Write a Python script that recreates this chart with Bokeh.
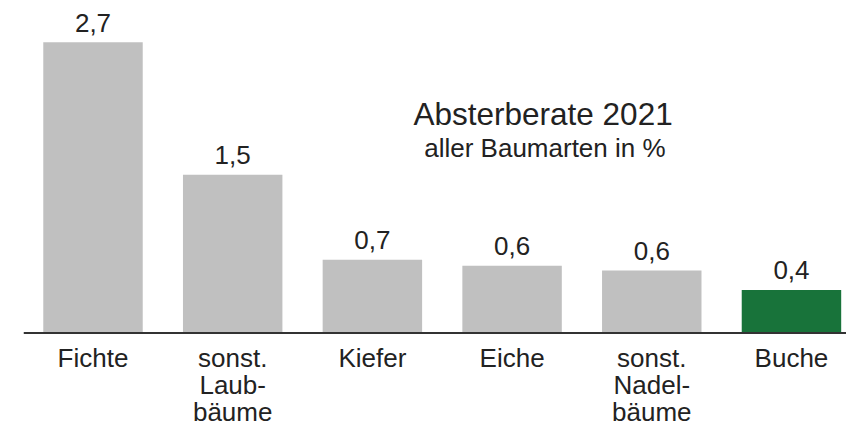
from bokeh.plotting import figure
from bokeh.models import Range1d, Span, ColumnDataSource
from bokeh.core.properties import value
from bokeh.embed import file_html
from bokeh.resources import INLINE

# data
categories = ["Fichte", "sonst.\nLaub-\nbäume", "Kiefer", "Eiche", "sonst.\nNadel-\nbäume", "Buche"]
rates = [2.70, 1.47, 0.68, 0.625, 0.58, 0.40]
rate_labels = ["2,7", "1,5", "0,7", "0,6", "0,6", "0,4"]
highlight = ["Buche"]
title_text = "Absterberate 2021"
subtitle_text = "aller Baumarten in %"

FONT = value("Liberation Sans")
TXT = "#222222"
GRAY = "#c0c0c0"
GREEN = "#18733a"

p = figure(width=846, height=427, output_backend="svg", toolbar_location=None,
           x_range=Range1d(-0.4975, 5.394), y_range=Range1d(-0.877, 3.087),
           x_axis_location=None, y_axis_location=None)
p.min_border_left = 23
p.min_border_right = 0
p.min_border_top = 0
p.min_border_bottom = 0
p.outline_line_color = None
p.xgrid.visible = False
p.ygrid.visible = False
p.background_fill_color = "white"
p.border_fill_color = "white"

xs = list(range(len(categories)))
colors = [GREEN if c in highlight else GRAY for c in categories]
src = ColumnDataSource(dict(x=xs, top=rates, color=colors, lab=rate_labels))
p.vbar(x="x", top="top", bottom=0, width=0.712, fill_color="color", line_color=None, source=src)

p.text(x="x", y="top", text="lab", source=src, text_font=FONT, text_font_size="26px",
       text_color=TXT, text_align="center", text_baseline="alphabetic", y_offset=-19.5)

# category labels, one glyph per line
lx, ly, lt, loff = [], [], [], []
for i, c in enumerate(categories):
    for k, line in enumerate(c.split("\n")):
        lx.append(i)
        ly.append(0)
        lt.append(line)
        loff.append(24.5 + 27 * k)
csrc = ColumnDataSource(dict(x=lx, y=ly, t=lt, off=loff))
p.text(x="x", y="y", text="t", y_offset="off", source=csrc, text_font=FONT,
       text_font_size="26px", text_color=TXT, text_align="center", text_baseline="alphabetic")

p.add_layout(Span(location=0, dimension="width", line_color="#333333", line_width=2))

p.text(x=[3.222], y=[1.927], text=[title_text], text_font=FONT, text_font_size="31.5px",
       text_color=TXT, text_align="center", text_baseline="alphabetic", y_offset=-11)
p.text(x=[3.235], y=[1.632], text=[subtitle_text], text_font=FONT, text_font_size="26px",
       text_color=TXT, text_align="center", text_baseline="alphabetic", y_offset=-9.5)

open("out.html", "w").write(file_html(p, INLINE))
